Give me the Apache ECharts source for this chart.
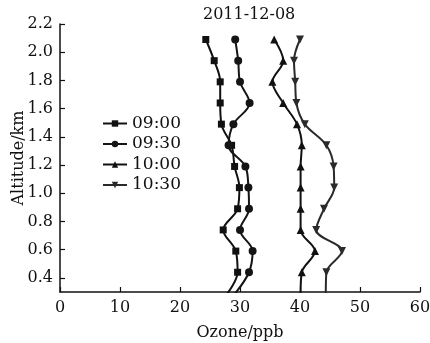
<!DOCTYPE html>
<html>
<head>
<meta charset="utf-8">
<script src="https://cdn.jsdelivr.net/npm/echarts@6/dist/echarts.min.js"></script>
<style>html,body{margin:0;padding:0;background:#fff}#c{width:430px;height:343px}</style>
</head>
<body>
<div id="c"></div>
<script>
var altitudes = [0.29, 0.44, 0.59, 0.74, 0.89, 1.04, 1.19, 1.34, 1.49, 1.64, 1.79, 1.94, 2.09];
var seriesNames = ['09:00', '09:30', '10:00', '10:30'];
var ozone0900 = [27.9, 29.6, 29.3, 27.2, 29.6, 29.9, 29.1, 28.6, 26.9, 26.7, 26.7, 25.7, 24.3];
var ozone0930 = [29.2, 31.5, 32.1, 30.0, 31.5, 31.4, 30.9, 28.1, 28.9, 31.6, 30.0, 29.7, 29.2];
var ozone1000 = [40.1, 40.3, 42.5, 40.1, 40.1, 40.1, 40.1, 40.3, 39.5, 37.2, 35.4, 37.2, 35.7];
var ozone1030 = [44.3, 44.4, 47.0, 42.7, 44.0, 45.7, 45.6, 44.4, 40.8, 39.4, 39.2, 39.0, 40.0];
var yTicks = [0.4, 0.6, 0.8, 1.0, 1.2, 1.4, 1.6, 1.8, 2.0, 2.2];
var xTicks = [0, 10, 20, 30, 40, 50, 60];
var titleText = '2011-12-08';

var FONT = 'DejaVu Serif';
var symbols = ['rect', 'circle', 'triangle', 'triangle'];
var rotates = [0, 0, 0, 180];
var colors = ['#111', '#151515', '#111', '#2a2a2a'];
var allData = [ozone0900, ozone0930, ozone1000, ozone1030];

function pairs(vals) {
  return vals.map(function (v, i) { return [v, altitudes[i]]; });
}

var chart = echarts.init(document.getElementById('c'), null, {renderer: 'canvas'});
chart.setOption({
  animation: false,
  backgroundColor: '#fff',
  title: {
    text: titleText,
    left: 203, top: 7, padding: 0,
    textStyle: {fontFamily: FONT, fontSize: 16, fontWeight: 'normal', color: '#111'}
  },
  legend: {
    orient: 'vertical',
    left: 102, top: 115,
    itemWidth: 24, itemHeight: 8, itemGap: 3.5,
    padding: 0,
    textStyle: {fontFamily: FONT, fontSize: 17, color: '#111', lineHeight: 16},
    data: seriesNames
  },
  grid: {left: 60, right: 10, top: 24, bottom: 51, containLabel: false, outerBoundsMode: 'none'},
  xAxis: {
    type: 'value', min: 0, max: 60, interval: 10,
    name: 'Ozone/ppb', nameLocation: 'middle', nameGap: 33, nameMoveOverlap: false,
    nameTextStyle: {fontFamily: FONT, fontSize: 16, color: '#111'},
    axisLine: {lineStyle: {color: '#111', width: 1.5}},
    axisTick: {inside: true, length: 5, lineStyle: {color: '#111', width: 1.2}},
    axisLabel: {fontFamily: FONT, fontSize: 16, color: '#111', margin: 8,
      customValues: xTicks},
    splitLine: {show: false}
  },
  yAxis: {
    type: 'value', min: 0.3, max: 2.2,
    name: 'Altitude/km', nameLocation: 'middle', nameGap: 33, nameRotate: 90,
    nameMoveOverlap: false,
    nameTextStyle: {fontFamily: FONT, fontSize: 16, color: '#111'},
    axisLine: {show: true, lineStyle: {color: '#111', width: 1.5}},
    axisTick: {show: true, inside: true, length: 5, customValues: yTicks,
      lineStyle: {color: '#111', width: 1.2}},
    axisLabel: {fontFamily: FONT, fontSize: 16, color: '#111', margin: 7,
      customValues: yTicks,
      formatter: function (v) { return v.toFixed(1); }},
    splitLine: {show: false}
  },
  series: seriesNames.map(function (n, k) {
    return {
      name: n, type: 'line', smooth: 0.35, clip: true,
      symbol: symbols[k], symbolRotate: rotates[k],
      symbolSize: k === 0 ? 7 : 8,
      showAllSymbol: true,
      lineStyle: {color: colors[k], width: 2},
      itemStyle: {color: colors[k]},
      data: pairs(allData[k])
    };
  })
});
</script>
</body>
</html>
